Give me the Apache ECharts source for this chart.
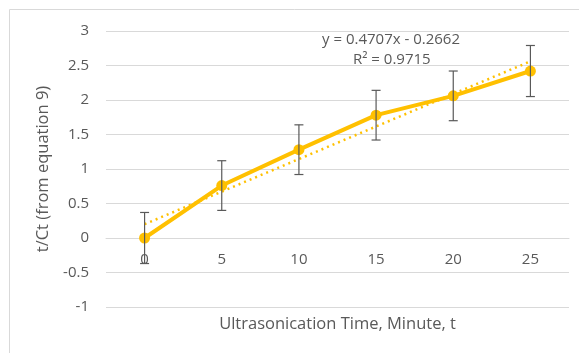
<!DOCTYPE html>
<html>
<head>
  <meta charset="utf-8">
  <script src="https://cdn.jsdelivr.net/npm/echarts@6/dist/echarts.min.js"></script>
</head>
<body style="margin:0; background:#fff">
  <div id="container" style="width:579px; height:353px"></div>
  <script>
    // data
    var times = ['0', '5', '10', '15', '20', '25'];
    var values = [0, 0.76, 1.28, 1.78, 2.06, 2.42];
    var errors = [0.37, 0.36, 0.36, 0.36, 0.36, 0.37];
    // linear trendline shown in chart (y = 0.4707x - 0.2662, x = 1..6)
    var trendValues = [0.20, 0.68, 1.15, 1.62, 2.09, 2.56];
    var yTicks = { min: -1, max: 3, interval: 0.5 };

    var textColor = '#595959';
    var gold = '#FFC000';
    var font = '"Open Sans", "Liberation Sans", sans-serif';

    var errorData = [];
    for (var i = 0; i < values.length; i++) {
      errorData.push([i, values[i] - errors[i], values[i] + errors[i]]);
    }

    var chart = echarts.init(document.getElementById('container'));
    var option = {
      animation: false,
      textStyle: { fontFamily: font },
      graphic: [
        {
          type: 'rect',
          shape: { x: 9.5, y: 9.5, width: 620, height: 400 },
          style: { fill: 'none', stroke: '#d9d9d9', lineWidth: 1 },
          z: -1
        },
        {
          type: 'text',
          left: 322, top: 32,
          style: { text: 'y = 0.4707x - 0.2662', fill: textColor, font: '15px ' + font }
        },
        {
          type: 'text',
          left: 353, top: 52,
          style: { text: 'R² = 0.9715', fill: textColor, font: '15px ' + font }
        }
      ],
      grid: { left: 106, right: 10, top: 31, bottom: 46, outerBoundsMode: 'none', containLabel: false },
      xAxis: {
        type: 'category',
        data: times,
        offset: -69,
        name: 'Ultrasonication Time, Minute, t',
        nameLocation: 'middle',
        nameGap: 78,
        nameTextStyle: { color: textColor, fontSize: 16.5 },
        axisLine: { onZero: false, lineStyle: { color: '#d9d9d9' } },
        axisTick: { show: false },
        axisLabel: { color: textColor, fontSize: 15, margin: 14 }
      },
      yAxis: {
        type: 'value',
        min: yTicks.min, max: yTicks.max, interval: yTicks.interval,
        name: 't/Ct (from equation 9)',
        nameLocation: 'middle',
        nameGap: 49,
        nameTextStyle: { color: textColor, fontSize: 16.5 },
        axisLine: { show: false },
        axisTick: { show: false },
        axisLabel: { color: textColor, fontSize: 15, margin: 17 },
        splitLine: { lineStyle: { color: '#d9d9d9' } }
      },
      series: [
        {
          type: 'line',
          data: [trendValues[0], null, null, null, null, trendValues[5]],
          connectNulls: true,
          symbol: 'none',
          lineStyle: { color: gold, width: 2.5, type: [2, 4] },
          z: 1
        },
        {
          type: 'line',
          data: values,
          symbol: 'circle',
          symbolSize: 11,
          itemStyle: { color: gold },
          lineStyle: { color: gold, width: 4 },
          z: 3
        },
        {
          type: 'custom',
          data: errorData,
          z: 4,
          renderItem: function (params, api) {
            var x = api.value(0);
            var lo = api.coord([x, api.value(1)]);
            var hi = api.coord([x, api.value(2)]);
            var w = 4.5;
            var st = { stroke: '#595959', lineWidth: 1.2 };
            return {
              type: 'group',
              children: [
                { type: 'line', shape: { x1: hi[0], y1: hi[1], x2: lo[0], y2: lo[1] }, style: st },
                { type: 'line', shape: { x1: hi[0] - w, y1: hi[1], x2: hi[0] + w, y2: hi[1] }, style: st },
                { type: 'line', shape: { x1: lo[0] - w, y1: lo[1], x2: lo[0] + w, y2: lo[1] }, style: st }
              ]
            };
          }
        }
      ]
    };
    chart.setOption(option);
  </script>
</body>
</html>
